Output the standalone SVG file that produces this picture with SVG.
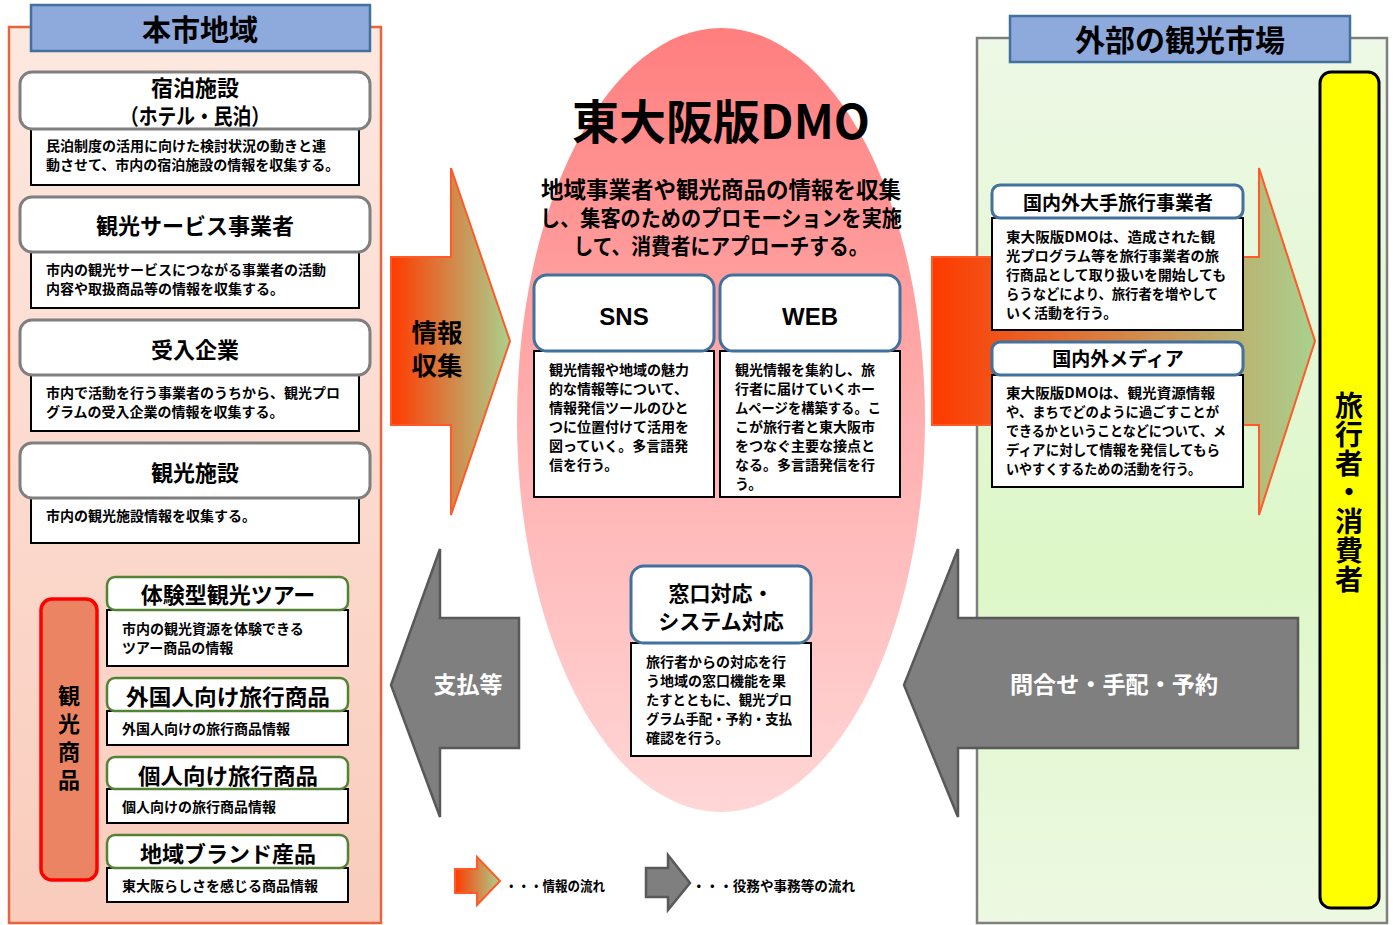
<svg xmlns="http://www.w3.org/2000/svg" width="1393" height="925" viewBox="0 0 1393 925">
<defs>
<linearGradient id="gLeft" x1="0" y1="0" x2="0" y2="1"><stop offset="0" stop-color="#FDE8E0"/><stop offset="1" stop-color="#F9CCBC"/></linearGradient>
<linearGradient id="gRight" x1="0" y1="0" x2="0" y2="1"><stop offset="0" stop-color="#EEF8E6"/><stop offset="0.6" stop-color="#DDF7C8"/><stop offset="1" stop-color="#EDF9E2"/></linearGradient>
<linearGradient id="gEll" x1="0" y1="0" x2="0" y2="1"><stop offset="0" stop-color="#FF7E7E"/><stop offset="0.5" stop-color="#FFAFAF"/><stop offset="1" stop-color="#FFD6D6"/></linearGradient>
<linearGradient id="gInfo" x1="0" y1="0" x2="1" y2="0"><stop offset="0" stop-color="#FF3A00"/><stop offset="1" stop-color="#A9D18E"/></linearGradient>
<style>
text{font-family:"Noto Sans CJK JP","Noto Sans",sans-serif;font-weight:700;fill:#000}
.hdr{fill:#8EA9DB;stroke:#41719C;stroke-width:2.5}
.gbox{fill:#fff;stroke:#7F7F7F;stroke-width:3}
.grn{fill:#fff;stroke:#548235;stroke-width:2.5}
.blu{fill:#fff;stroke:#41719C;stroke-width:3}
.desc{fill:#fff;stroke:#000;stroke-width:2}
.t22{font-size:22px;text-anchor:middle}
.d14{font-size:14px}
.info{fill:url(#gInfo);stroke:#FF5A28;stroke-width:2}
.gray{fill:#7F7F7F;stroke:#595959;stroke-width:2.5}
.wt{fill:#fff;font-size:23px;text-anchor:middle}
</style>
</defs>
<rect width="1393" height="925" fill="#fff"/>

<!-- panels -->
<g id="left-panel">
<rect x="9" y="27" width="372" height="896" fill="url(#gLeft)" stroke="#E8643C" stroke-width="2.5"/>
<rect class="hdr" x="31" y="5" width="339" height="46"/>
<text x="200" y="41" font-size="29" text-anchor="middle">本市地域</text>
</g>
<g id="right-panel">
<rect x="977" y="38" width="410" height="885" fill="url(#gRight)" stroke="#7F7F7F" stroke-width="2.5"/>
<rect class="hdr" x="1010" y="16" width="340" height="46"/>
<text x="1180" y="51" font-size="30" text-anchor="middle">外部の観光市場</text>
</g>

<g id="dmo">
<ellipse cx="721" cy="420" rx="204" ry="392" fill="url(#gEll)"/>
<text x="721" y="139" font-size="47" text-anchor="middle">東大阪版DMO</text>
<text font-size="22" text-anchor="middle"><tspan x="721" y="198" font-size="22.5">地域事業者や観光商品の情報を収集</tspan><tspan x="721" y="226" textLength="362" lengthAdjust="spacingAndGlyphs">し、集客のためのプロモーションを実施</tspan><tspan x="721" y="254" textLength="295" lengthAdjust="spacingAndGlyphs">して、消費者にアプローチする。</tspan></text>
</g>

<!-- connectors -->
<g id="connectors">
<polygon class="info" points="391,257 451,257 451,168 510,341 451,515 451,425 391,425"/>
<polygon class="info" points="932,257 1259,257 1259,168 1315,341 1259,515 1259,425 932,425"/>
<polygon class="gray" points="519,618 440,618 440,549 391,685 440,817 440,748 519,748"/>
<polygon class="gray" points="1298,618 958,618 958,549 904,685 958,817 958,748 1298,748"/>
</g>
<g id="arrow-labels">
<text font-size="25.5" text-anchor="middle"><tspan x="437" y="342">情報</tspan><tspan x="437" y="375">収集</tspan></text>
<text class="wt" x="468" y="693">支払等</text>
<text class="wt" x="1114" y="693" textLength="208" lengthAdjust="spacingAndGlyphs">問合せ・手配・予約</text>
</g>

<!-- left nodes -->
<g id="n-shukuhaku">
<rect class="desc" x="31" y="129" width="328" height="56"/>
<rect class="gbox" x="20" y="72" width="350" height="57" rx="12"/>
<text class="t22"><tspan x="195" y="96">宿泊施設</tspan><tspan x="195" y="124" textLength="150" lengthAdjust="spacingAndGlyphs">（ホテル・民泊）</tspan></text>
<text class="d14"><tspan x="46" y="151">民泊制度の活用に向けた検討状況の動きと連</tspan><tspan x="46" y="170">動させて、市内の宿泊施設の情報を収集する。</tspan></text>
</g>
<g id="n-service">
<rect class="desc" x="31" y="252" width="328" height="56"/>
<rect class="gbox" x="20" y="197" width="350" height="55" rx="12"/>
<text class="t22" x="195" y="234">観光サービス事業者</text>
<text class="d14"><tspan x="46" y="275">市内の観光サービスにつながる事業者の活動</tspan><tspan x="46" y="294">内容や取扱商品等の情報を収集する。</tspan></text>
</g>
<g id="n-ukeire">
<rect class="desc" x="31" y="375" width="328" height="56"/>
<rect class="gbox" x="20" y="320" width="350" height="55" rx="12"/>
<text class="t22" x="195" y="358">受入企業</text>
<text class="d14"><tspan x="46" y="398">市内で活動を行う事業者のうちから、観光プロ</tspan><tspan x="46" y="417">グラムの受入企業の情報を収集する。</tspan></text>
</g>
<g id="n-shisetsu">
<rect class="desc" x="31" y="498" width="328" height="45"/>
<rect class="gbox" x="20" y="443" width="350" height="55" rx="12"/>
<text class="t22" x="195" y="481">観光施設</text>
<text class="d14" x="46" y="521">市内の観光施設情報を収集する。</text>
</g>

<g id="n-kankoshohin">
<rect x="41" y="599" width="56" height="281" rx="11" fill="#EB8462" stroke="#FF0000" stroke-width="3.5"/>
<text x="69" y="685" font-size="22" writing-mode="vertical-rl" letter-spacing="6">観光商品</text>
</g>
<g id="n-taiken">
<rect class="desc" x="107" y="610" width="241" height="56"/>
<rect class="grn" x="107" y="577" width="241" height="33" rx="8"/>
<text class="t22" x="228" y="603">体験型観光ツアー</text>
<text class="d14"><tspan x="122" y="634">市内の観光資源を体験できる</tspan><tspan x="122" y="653">ツアー商品の情報</tspan></text>
</g>
<g id="n-gaikoku">
<rect class="desc" x="107" y="711" width="241" height="34"/>
<rect class="grn" x="107" y="678" width="241" height="33" rx="8"/>
<text class="t22" x="228" y="705" textLength="204" lengthAdjust="spacingAndGlyphs">外国人向け旅行商品</text>
<text class="d14" x="122" y="734">外国人向けの旅行商品情報</text>
</g>
<g id="n-kojin">
<rect class="desc" x="107" y="789" width="241" height="34"/>
<rect class="grn" x="107" y="757" width="241" height="32" rx="8"/>
<text class="t22" x="228" y="784" textLength="180" lengthAdjust="spacingAndGlyphs">個人向け旅行商品</text>
<text class="d14" x="122" y="812">個人向けの旅行商品情報</text>
</g>
<g id="n-brand">
<rect class="desc" x="107" y="868" width="241" height="34"/>
<rect class="grn" x="107" y="835" width="241" height="33" rx="8"/>
<text class="t22" x="228" y="862">地域ブランド産品</text>
<text class="d14" x="122" y="891">東大阪らしさを感じる商品情報</text>
</g>

<!-- center nodes -->
<g id="n-sns">
<rect class="desc" x="534" y="351" width="180" height="146"/>
<rect class="blu" x="534" y="275" width="180" height="76" rx="13"/>
<text x="624" y="325" font-size="24" text-anchor="middle" style="font-family:'Liberation Sans',Arial,sans-serif">SNS</text>
<text class="d14"><tspan x="549" y="375">観光情報や地域の魅力</tspan><tspan x="549" y="394">的な情報等について、</tspan><tspan x="549" y="413">情報発信ツールのひと</tspan><tspan x="549" y="432">つに位置付けて活用を</tspan><tspan x="549" y="451">図っていく。多言語発</tspan><tspan x="549" y="470">信を行う。</tspan></text>
</g>
<g id="n-web">
<rect class="desc" x="720" y="351" width="180" height="146"/>
<rect class="blu" x="720" y="275" width="180" height="76" rx="13"/>
<text x="810" y="325" font-size="24" text-anchor="middle" style="font-family:'Liberation Sans',Arial,sans-serif">WEB</text>
<text class="d14"><tspan x="735" y="375">観光情報を集約し、旅</tspan><tspan x="735" y="394">行者に届けていくホー</tspan><tspan x="735" y="413" textLength="146" lengthAdjust="spacingAndGlyphs">ムページを構築する。こ</tspan><tspan x="735" y="432">こが旅行者と東大阪市</tspan><tspan x="735" y="451">をつなぐ主要な接点と</tspan><tspan x="735" y="470">なる。多言語発信を行</tspan><tspan x="735" y="489">う。</tspan></text>
</g>
<g id="n-madoguchi">
<rect class="desc" x="631" y="643" width="180" height="113"/>
<rect class="blu" x="631" y="566" width="180" height="77" rx="13"/>
<text font-size="21" text-anchor="middle"><tspan x="721" y="601">窓口対応・</tspan><tspan x="721" y="629">システム対応</tspan></text>
<text class="d14"><tspan x="646" y="667">旅行者からの対応を行</tspan><tspan x="646" y="686">う地域の窓口機能を果</tspan><tspan x="646" y="705" textLength="146" lengthAdjust="spacingAndGlyphs">たすとともに、観光プロ</tspan><tspan x="646" y="724" textLength="146" lengthAdjust="spacingAndGlyphs">グラム手配・予約・支払</tspan><tspan x="646" y="743">確認を行う。</tspan></text>
</g>

<!-- right nodes -->
<g id="n-ryokogyo">
<rect class="desc" x="992" y="218" width="251" height="112"/>
<rect class="blu" x="992" y="185" width="251" height="33" rx="8"/>
<text x="1118" y="210" font-size="19" text-anchor="middle">国内外大手旅行事業者</text>
<text class="d14"><tspan x="1006" y="242" textLength="209" lengthAdjust="spacingAndGlyphs">東大阪版DMOは、造成された観</tspan><tspan x="1006" y="261" textLength="213" lengthAdjust="spacingAndGlyphs">光プログラム等を旅行事業者の旅</tspan><tspan x="1006" y="280" textLength="220" lengthAdjust="spacingAndGlyphs">行商品として取り扱いを開始しても</tspan><tspan x="1006" y="299" textLength="212" lengthAdjust="spacingAndGlyphs">らうなどにより、旅行者を増やして</tspan><tspan x="1006" y="318">いく活動を行う。</tspan></text>
</g>
<g id="n-media">
<rect class="desc" x="992" y="375" width="251" height="112"/>
<rect class="blu" x="992" y="342" width="251" height="33" rx="8"/>
<text x="1118" y="366" font-size="19" text-anchor="middle">国内外メディア</text>
<text class="d14"><tspan x="1006" y="398" textLength="209" lengthAdjust="spacingAndGlyphs">東大阪版DMOは、観光資源情報</tspan><tspan x="1006" y="417" textLength="213" lengthAdjust="spacingAndGlyphs">や、まちでどのように過ごすことが</tspan><tspan x="1006" y="436" textLength="220" lengthAdjust="spacingAndGlyphs">できるかということなどについて、メ</tspan><tspan x="1006" y="455" textLength="214" lengthAdjust="spacingAndGlyphs">ディアに対して情報を発信してもら</tspan><tspan x="1006" y="474" textLength="195" lengthAdjust="spacingAndGlyphs">いやすくするための活動を行う。</tspan></text>
</g>
<g id="n-consumer">
<rect x="1320" y="72" width="59" height="836" rx="11" fill="#FFFF00" stroke="#000" stroke-width="3"/>
<text x="1349" y="391" font-size="28" writing-mode="vertical-rl" letter-spacing="1">旅行者・消費者</text>
</g>

<!-- legend -->
<g id="legend">
<polygon class="info" points="455,869 477,869 477,857 500,881 477,905 477,893 455,893"/>
<text x="505" y="891" font-size="14" textLength="100" lengthAdjust="spacingAndGlyphs">・・・情報の流れ</text>
<polygon class="gray" points="646,868 668,868 668,855 690,883 668,910 668,897 646,897" stroke-width="2"/>
<text x="692" y="891" font-size="14" textLength="163" lengthAdjust="spacingAndGlyphs">・・・役務や事務等の流れ</text>
</g>
</svg>
